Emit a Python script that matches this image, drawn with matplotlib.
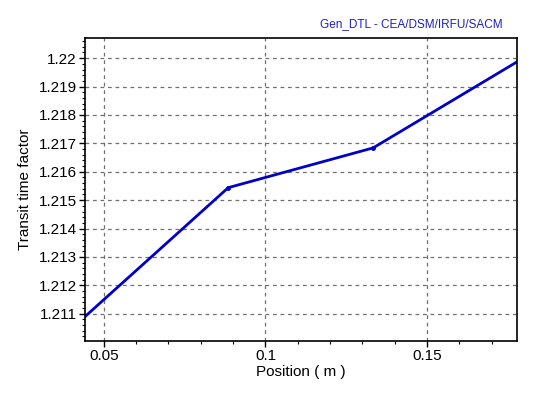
import matplotlib
matplotlib.use('Agg')
import matplotlib.pyplot as plt
from matplotlib.ticker import MultipleLocator

# %% data
position = [0.0442, 0.0885, 0.1333, 0.1778]
ttf = [1.21090, 1.21544, 1.21684, 1.21987]

# %% plot
plt.rcParams['font.family'] = ['Liberation Sans', 'DejaVu Sans']

fig = plt.figure(figsize=(5.35, 3.93), dpi=100)
ax = fig.add_axes([0.1589, 0.1323, 0.8075, 0.771])

ax.plot(position, ttf, color='#0000c8', lw=2.0)
ax.plot(position[1:3], ttf[1:3], 'o', color='#0000c8', ms=2.5)

ax.set_xlim(0.0442, 0.1778)
ax.set_ylim(1.21004, 1.22071)

ax.xaxis.set_major_locator(MultipleLocator(0.05))
ax.xaxis.set_minor_locator(MultipleLocator(0.01))
ax.yaxis.set_major_locator(MultipleLocator(0.001))
ax.yaxis.set_minor_locator(MultipleLocator(0.0002))
fmt = plt.FuncFormatter(lambda v, p: '%g' % round(v, 4))
ax.xaxis.set_major_formatter(fmt)
ax.yaxis.set_major_formatter(fmt)

ax.tick_params(which='major', length=4, width=1, labelsize=11, colors='black', pad=2)
ax.tick_params(which='minor', length=2.5, width=0.8)

ax.grid(True, which='major', linestyle=(0, (3, 3)), color='#707070', lw=0.9)
for s in ax.spines.values():
    s.set_linewidth(1.2)

ax.set_xlabel('Position ( m )', fontsize=11, labelpad=1)
ax.set_ylabel('Transit time factor', fontsize=11, labelpad=5)
fig.text(0.94, 0.939, 'Gen_DTL - CEA/DSM/IRFU/SACM', color='#2020c0',
         fontsize=8.5, ha='right', va='center')

fig.savefig('out.png', dpi=100)
